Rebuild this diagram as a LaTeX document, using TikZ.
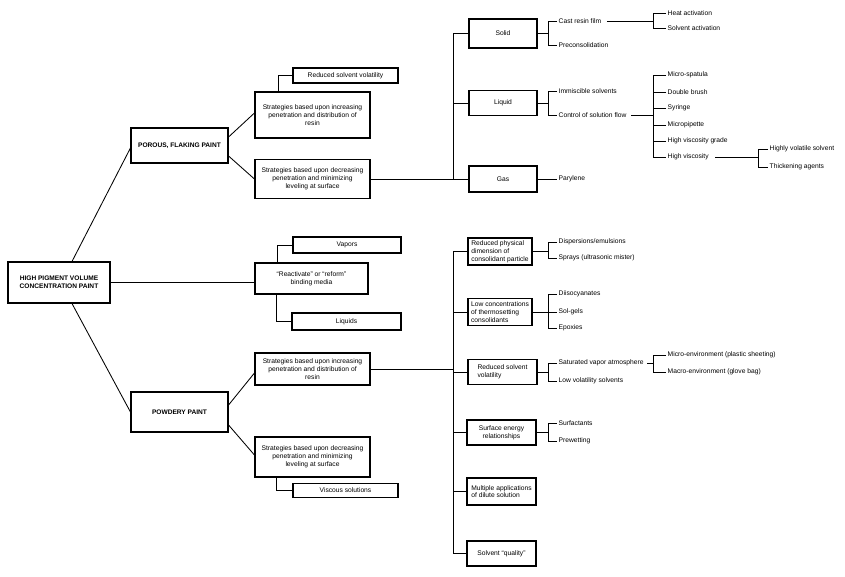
\documentclass[tikz,border=0pt]{standalone}
\usepackage{fontspec}
\setmainfont{Liberation Sans}
\begin{document}
\begin{tikzpicture}[x=1pt,y=-1pt,
 every node/.style={font=\fontsize{6.7}{7.8}\selectfont},
 box/.style={draw, line width=1.1pt, inner sep=2pt, align=center},
 hbox/.style={box, font=\fontsize{6.6}{7.8}\selectfont\bfseries},
 lbl/.style={anchor=west, inner sep=1.5pt},
 con/.style={line width=0.85pt}]
\useasboundingbox (0,0) rectangle (845,576);
% left part
\node[hbox, minimum width=102pt, minimum height=41pt] (hpvc) at (59,282.5) {HIGH PIGMENT VOLUME\\CONCENTRATION PAINT};
\node[hbox, minimum width=97pt, minimum height=35pt] (porous) at (179.5,145.5) {POROUS, FLAKING PAINT};
\node[hbox, minimum width=97pt, minimum height=40pt] (powdery) at (179.5,412) {POWDERY PAINT};
\node[box, minimum width=115pt, minimum height=46pt] (ps1) at (312.5,115) {Strategies based upon increasing\\penetration and distribution of\\resin};
\node[box, minimum width=115pt, minimum height=39pt] (ps2) at (312.5,179) {Strategies based upon decreasing\\penetration and minimizing\\leveling at surface};
\node[box, minimum width=105pt, minimum height=15pt] (rsv1) at (345.5,75.5) {Reduced solvent volatility};
\node[box, minimum width=113pt, minimum height=31pt] (react) at (311.5,278.5) {“Reactivate” or “reform”\\binding media};
\node[box, minimum width=108pt, minimum height=16pt] (vapors) at (347,245) {Vapors};
\node[box, minimum width=109pt, minimum height=17pt] (liquids) at (346.5,321.5) {Liquids};
\node[box, minimum width=115pt, minimum height=32pt] (pw1) at (312.5,369) {Strategies based upon increasing\\penetration and distribution of\\resin};
\node[box, minimum width=115pt, minimum height=40pt] (pw2) at (312.5,457) {Strategies based upon decreasing\\penetration and minimizing\\leveling at surface};
\node[box, minimum width=105pt, minimum height=14pt] (visc) at (345.5,490.5) {Viscous solutions};
% right boxes
\node[box, minimum width=68pt, minimum height=29pt] (solid) at (503,33.5) {Solid};
\node[box, minimum width=68pt, minimum height=25pt] (liquid) at (503,103) {Liquid};
\node[box, minimum width=68pt, minimum height=26pt] (gas) at (503,179) {Gas};
\node[box, align=left, minimum width=64pt, minimum height=27pt, inner sep=1pt] (rpd) at (500,251.5) {Reduced physical\\dimension of\\consolidant particle};
\node[box, align=left, minimum width=64pt, minimum height=27pt, inner sep=1pt] (lct) at (500,312) {Low concentrations\\of thermosetting\\consolidants};
\node[box, align=left, minimum width=69pt, minimum height=25pt] (rsv2) at (502.5,372) {Reduced solvent\\volatility};
\node[box, minimum width=69pt, minimum height=25pt] (se) at (501.5,432.5) {Surface energy\\relationships};
\node[box, align=left, minimum width=69pt, minimum height=27pt] (ma) at (501.5,491.5) {Multiple applications\\of dilute solution};
\node[box, minimum width=69pt, minimum height=25pt] (sq) at (501.5,553.5) {Solvent “quality”};
% labels
\node[lbl] (cast) at (557,21) {Cast resin film};
\node[lbl] (precon) at (557,45) {Preconsolidation};
\node[lbl] (heat) at (666,13) {Heat activation};
\node[lbl] (sact) at (666,28) {Solvent activation};
\node[lbl] (immis) at (557,91) {Immiscible solvents};
\node[lbl] (ctrl) at (557,115) {Control of solution flow};
\node[lbl] (ms) at (666,75) {Micro-spatula};
\node[lbl] (db) at (666,92) {Double brush};
\node[lbl] (syr) at (666,108) {Syringe};
\node[lbl] (mp) at (666,125) {Micropipette};
\node[lbl] (hvg) at (666,141) {High viscosity grade};
\node[lbl] (hv) at (666,157) {High viscosity};
\node[lbl] (hvs) at (768,149) {Highly volatile solvent};
\node[lbl] (thick) at (768,167) {Thickening agents};
\node[lbl] (pary) at (557,179) {Parylene};
\node[lbl] (disp) at (557,242) {Dispersions/emulsions};
\node[lbl] (spray) at (557,258) {Sprays (ultrasonic mister)};
\node[lbl] (diiso) at (557,294) {Diisocyanates};
\node[lbl] (solg) at (557,312) {Sol-gels};
\node[lbl] (epox) at (557,328) {Epoxies};
\node[lbl] (sat) at (557,363) {Saturated vapor atmosphere};
\node[lbl] (lowv) at (557,381) {Low volatility solvents};
\node[lbl] (micro) at (666,355) {Micro-environment (plastic sheeting)};
\node[lbl] (macro) at (666,372) {Macro-environment (glove bag)};
\node[lbl] (surf) at (557,423) {Surfactants};
\node[lbl] (prew) at (557,441) {Prewetting};
% helper coordinates
\coordinate (bus) at (453,0);
\coordinate (b1) at (548,0);
\coordinate (b2) at (653,0);
\coordinate (b3) at (758,0);
% left connectors
\draw[con] ([xshift=13pt]hpvc.north) -- ([yshift=-2.5pt]porous.west);
\draw[con] ([xshift=13pt]hpvc.south) -- (powdery.west);
\draw[con] (hpvc.east) -- (hpvc.east -| react.west);
\draw[con] ([yshift=8.5pt]porous.east) -- ([yshift=2pt]ps1.west);
\draw[con] ([yshift=-10.5pt]porous.east) -- (ps2.west);
\draw[con] ([yshift=7pt]powdery.east) -- ([yshift=-4pt]pw1.west);
\draw[con] ([yshift=-13pt]powdery.east) -- ([yshift=2pt]pw2.west);
\draw[con] ([xshift=-34.5pt]ps1.north) |- (rsv1.west);
\draw[con] ([xshift=-34.5pt]react.north) |- (vapors.west);
\draw[con] ([xshift=-35.5pt]react.south) |- (liquids.west);
\draw[con] ([xshift=-36.5pt]pw2.south) |- (visc.west);
% upper bus
\draw[con] (ps2.east) -- (gas.west);
\draw[con] (solid.west) -- (solid.west -| bus) -- (gas.west -| bus);
\draw[con] (liquid.west) -- (liquid.west -| bus);
% lower bus
\draw[con] (pw1.east) -- (pw1.east -| bus);
\draw[con] (rpd.west) -- (rpd.west -| bus) -- (sq.west -| bus) -- (sq.west);
\foreach \n in {lct,rsv2,se,ma} \draw[con] (\n.west) -- (\n.west -| bus);
% brackets upper
\draw[con] (solid.east) -- (solid.east -| b1);
\draw[con] (cast.west) -- (cast.west -| b1) -- (precon.west -| b1) -- (precon.west);
\draw[con] ([xshift=4pt]cast.east) -- (cast.east -| b2);
\draw[con] (heat.west) -- (heat.west -| b2) -- (sact.west -| b2) -- (sact.west);
\draw[con] (liquid.east) -- (liquid.east -| b1);
\draw[con] (immis.west) -- (immis.west -| b1) -- (ctrl.west -| b1) -- (ctrl.west);
\draw[con] ([xshift=3pt]ctrl.east) -- (ctrl.east -| b2);
\draw[con] (ms.west) -- (ms.west -| b2) -- (hv.west -| b2) -- (hv.west);
\foreach \n in {db,syr,mp,hvg} \draw[con] (\n.west) -- (\n.west -| b2);
\draw[con] ([xshift=5pt]hv.east) -- (hv.east -| b3);
\draw[con] (hvs.west) -- (hvs.west -| b3) -- (thick.west -| b3) -- (thick.west);
\draw[con] (gas.east) -- (pary.west);
% brackets lower
\draw[con] (rpd.east) -- (rpd.east -| b1);
\draw[con] (disp.west) -- (disp.west -| b1) -- (spray.west -| b1) -- (spray.west);
\draw[con] (lct.east) -- (lct.east -| b1);
\draw[con] (diiso.west) -- (diiso.west -| b1) -- (epox.west -| b1) -- (epox.west);
\draw[con] (solg.west) -- (solg.west -| b1);
\draw[con] (rsv2.east) -- (rsv2.east -| b1);
\draw[con] (sat.west) -- (sat.west -| b1) -- (lowv.west -| b1) -- (lowv.west);
\draw[con] ([xshift=2pt]sat.east) -- (sat.east -| b2);
\draw[con] (micro.west) -- (micro.west -| b2) -- (macro.west -| b2) -- (macro.west);
\draw[con] (se.east) -- (se.east -| b1);
\draw[con] (surf.west) -- (surf.west -| b1) -- (prew.west -| b1) -- (prew.west);
\end{tikzpicture}
\end{document}
